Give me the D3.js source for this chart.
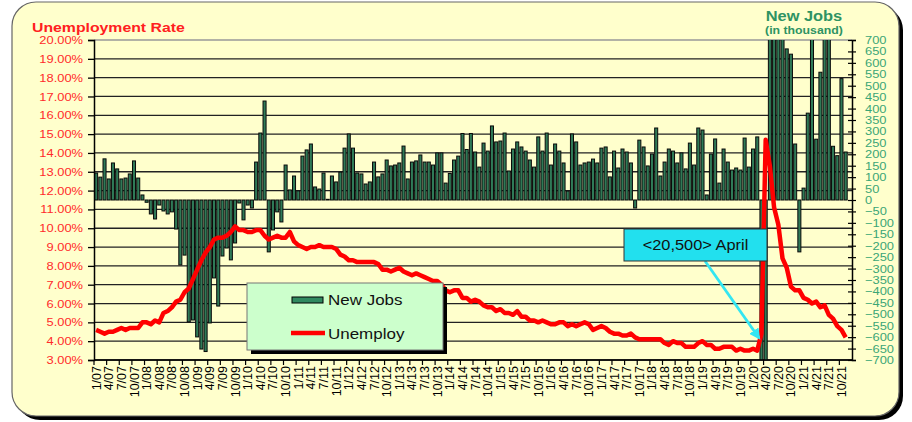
<!DOCTYPE html>
<html><head><meta charset="utf-8">
<script src="https://cdn.jsdelivr.net/npm/d3@7/dist/d3.min.js"></script>
<style>
html,body{margin:0;padding:0;background:#fff;}
text{font-family:"Liberation Sans",Arial,sans-serif;}
</style></head>
<body><svg id="c" width="912" height="422"></svg>
<script>
// ---- data ----
const years = d3.range(2007, 2022);
const months = [];
years.forEach(y => { for (let m = 1; m <= 12; m++) months.push(m + "/" + String(y).slice(2)); });

const newJobs = [
 118,100,180,92,162,136,92,96,114,171,96,22,
 -10,-61,-83,-22,-48,-61,-52,-127,-284,-241,-533,-525,
 -599,-652,-663,-538,-341,-464,-245,-210,-262,-188,-13,-87,
 -22,-35,166,293,433,-227,-131,-52,-96,153,44,105,
 40,192,219,245,57,48,118,3,105,79,122,227,
 289,227,118,114,70,79,166,101,114,175,149,153,
 162,236,92,166,171,197,166,166,153,206,206,74,
 116,175,192,291,221,291,210,144,249,214,324,254,
 258,293,127,223,254,232,214,175,144,276,214,293,
 153,245,214,162,39,289,254,153,162,166,179,162,
 227,232,101,214,140,223,210,162,-35,262,232,149,
 201,315,105,166,223,214,162,206,136,249,153,315,
 306,22,201,267,74,223,166,131,140,131,271,144,
 223,276,-701,-20500,2725,4800,1763,1371,661,638,245,-227,
 52,380,916,266,559,850,943,235,194,531,210,null
];

const unemploy = [
 4.6,4.5,4.4,4.5,4.5,4.6,4.7,4.6,4.7,4.7,4.7,5.0,
 5.0,4.9,5.1,5.0,5.5,5.6,5.8,6.1,6.2,6.6,6.8,7.3,
 7.8,8.3,8.7,9.0,9.4,9.5,9.5,9.6,9.8,10.1,9.9,9.9,
 9.8,9.8,9.9,9.9,9.6,9.4,9.5,9.6,9.5,9.5,9.8,9.3,
 9.1,9.0,8.9,9.0,9.0,9.1,9.0,9.0,9.0,8.9,8.6,8.5,
 8.3,8.3,8.2,8.2,8.2,8.2,8.2,8.1,7.8,7.8,7.7,7.8,
 7.9,7.7,7.6,7.5,7.6,7.5,7.4,7.3,7.2,7.2,7.0,6.7,
 6.6,6.7,6.7,6.3,6.3,6.1,6.2,6.1,5.9,5.8,5.8,5.6,
 5.7,5.5,5.5,5.4,5.6,5.3,5.3,5.1,5.1,5.0,5.1,5.0,
 4.9,4.9,5.0,5.0,4.8,4.9,4.8,4.9,5.0,4.9,4.6,4.7,
 4.8,4.7,4.5,4.4,4.4,4.3,4.3,4.4,4.2,4.1,4.1,4.1,
 4.1,4.1,4.1,3.9,3.8,4.0,3.9,3.9,3.7,3.7,3.7,3.9,
 4.0,3.8,3.8,3.6,3.6,3.7,3.7,3.7,3.5,3.6,3.5,3.5,
 3.6,3.5,4.4,14.7,13.3,11.1,10.2,8.4,7.9,6.9,6.7,6.7,
 6.3,6.2,6.0,6.1,5.8,5.9,5.4,5.2,4.8,4.6,4.2,null
];

const leftTicks = d3.range(3, 20.001, 1);
const rightTicks = d3.range(-700, 701, 50);
const quarterIdx = d3.range(0, 180, 3);

// ---- layout ----
const svg = d3.select("#c");
const L = 94, R = 852, T = 40, B = 360;
const STRETCH = 1.17;

const x = d3.scaleBand().domain(d3.range(180)).range([L, R]).paddingInner(0.28).paddingOuter(0.14);
const yL = d3.scaleLinear().domain([3, 20]).range([B, T]);
const yR = d3.scaleLinear().domain([-700, 700]).range([B, T]);
const step = x.step();

// outer frame
svg.append("rect").attr("x", 16).attr("y", 6).attr("width", 887).attr("height", 414).attr("rx", 24).attr("fill", "#000");
svg.append("rect").attr("x", 12).attr("y", 2).attr("width", 887).attr("height", 414).attr("rx", 24)
  .attr("fill", "#FFFFCC").attr("stroke", "#666").attr("stroke-width", 1.2);

// gridlines
svg.append("g").selectAll("line").data(leftTicks).join("line")
  .attr("x1", L).attr("x2", R).attr("y1", d => yL(d)).attr("y2", d => yL(d))
  .attr("stroke", (d, i) => d === 20 ? "#999" : "#222").attr("stroke-width", 1.3);

// clip
svg.append("clipPath").attr("id", "pc").append("rect").attr("x", L).attr("y", T).attr("width", R - L).attr("height", B - T);

// bars
svg.append("g").attr("clip-path", "url(#pc)").selectAll("rect")
  .data(newJobs.map((v, i) => ({ v, i })).filter(d => d.v !== null)).join("rect")
  .attr("x", d => x(d.i)).attr("width", x.bandwidth())
  .attr("y", d => Math.min(yR(d.v), yR(0)))
  .attr("height", d => Math.abs(yR(d.v) - yR(0)))
  .attr("fill", "#2f7a57").attr("stroke", "#0a0a0a").attr("stroke-width", 1);

// left axis
const ax = svg.append("g").attr("transform", `translate(${L},0)`)
  .call(d3.axisLeft(yL).tickValues(leftTicks).tickFormat(d => d.toFixed(2) + "%").tickSize(6).tickPadding(5));
ax.select(".domain").attr("stroke", "#000").attr("stroke-width", 1.5);
ax.selectAll(".tick line").attr("stroke", "#000").attr("stroke-width", 1.3);
ax.selectAll("text").attr("fill", "#FF2A2A").style("font-size", "11px").attr("class", "stretch");

// right axis
const ar = svg.append("g").attr("transform", `translate(${R},0)`)
  .call(d3.axisRight(yR).tickValues(rightTicks).tickSize(4).tickPadding(9));
ar.select(".domain").attr("stroke", "#000").attr("stroke-width", 1.5);
ar.selectAll(".tick line").attr("x1", -4).attr("x2", 4).attr("stroke", "#000").attr("stroke-width", 1.2);
ar.selectAll("text").attr("fill", "#3BA676").style("font-size", "11px").attr("class", "stretch");

// bottom axis
const xb = svg.append("g").attr("transform", `translate(0,${B})`)
  .call(d3.axisBottom(x).tickValues(quarterIdx).tickFormat(i => months[i]).tickSize(5));
xb.select(".domain").attr("stroke", "#000").attr("stroke-width", 1.5).attr("d", `M${L},0H${R}`);
xb.selectAll(".tick line").attr("transform", `translate(${-step / 2},0)`).attr("stroke", "#000").attr("stroke-width", 1.2);
xb.selectAll("text").attr("transform", "rotate(-90)").attr("x", -6).attr("y", 0).attr("dy", "0.36em")
  .style("text-anchor", "end").style("font-size", "12.5px").attr("fill", "#000");

// unemployment line
const line = d3.line().defined(d => d.v !== null).x(d => x(d.i) + x.bandwidth() / 2).y(d => yL(d.v));
svg.append("path").datum(unemploy.map((v, i) => ({ v, i })))
  .attr("d", line).attr("fill", "none").attr("stroke", "#FF0000").attr("stroke-width", 4.5)
  .attr("stroke-linejoin", "round");

// titles
svg.append("text").attr("x", 32).attr("y", 32).text("Unemployment Rate")
  .attr("fill", "#FF2020").style("font-weight", "bold").style("font-size", "13.5px").attr("class", "stretch");
svg.append("text").attr("x", 804).attr("y", 21).text("New Jobs").attr("text-anchor", "middle")
  .attr("fill", "#2E9363").style("font-weight", "bold").style("font-size", "14px").attr("class", "stretch");
svg.append("text").attr("x", 804).attr("y", 34).text("(in thousand)").attr("text-anchor", "middle")
  .attr("fill", "#2E9363").style("font-weight", "bold").style("font-size", "10.5px").attr("class", "stretch");

// legend
const lg = svg.append("g");
lg.append("rect").attr("x", 251).attr("y", 287).attr("width", 196).attr("height", 67).attr("fill", "#000");
lg.append("rect").attr("x", 247).attr("y", 283).attr("width", 196).attr("height", 67)
  .attr("fill", "#CCFFCC").attr("stroke", "#777").attr("stroke-width", 1);
lg.append("rect").attr("x", 292).attr("y", 297).attr("width", 31).attr("height", 6)
  .attr("fill", "#2f8a60").attr("stroke", "#000").attr("stroke-width", 1);
lg.append("text").attr("x", 328).attr("y", 305).text("New Jobs").style("font-size", "14.5px").attr("fill", "#111").attr("class", "stretch");
lg.append("line").attr("x1", 291).attr("x2", 325).attr("y1", 333).attr("y2", 333).attr("stroke", "#FF0000").attr("stroke-width", 4.5);
lg.append("text").attr("x", 328).attr("y", 339).text("Unemploy").style("font-size", "14.5px").attr("fill", "#111").attr("class", "stretch");

// callout
svg.append("defs").append("marker").attr("id", "ah").attr("viewBox", "0 0 10 10").attr("refX", 8).attr("refY", 5)
  .attr("markerWidth", 4).attr("markerHeight", 4).attr("orient", "auto")
  .append("path").attr("d", "M0,0L10,5L0,10z").attr("fill", "#33E6F2");
svg.append("line").attr("x1", 705).attr("y1", 261).attr("x2", 759).attr("y2", 338)
  .attr("stroke", "#33E6F2").attr("stroke-width", 2.8).attr("marker-end", "url(#ah)");
svg.append("rect").attr("x", 624).attr("y", 229).attr("width", 143).attr("height", 32)
  .attr("fill", "#22E0EE").attr("stroke", "#333").attr("stroke-width", 1);
svg.append("text").attr("x", 695.5).attr("y", 250).attr("text-anchor", "middle").text("<20,500> April")
  .style("font-size", "14px").attr("fill", "#111").attr("class", "stretch");

// horizontal stretch of text (picture is wider than tall scale)
svg.selectAll("text.stretch").each(function () {
  const w = this.getComputedTextLength();
  d3.select(this).attr("textLength", w * STRETCH).attr("lengthAdjust", "spacingAndGlyphs");
});
</script></body></html>
